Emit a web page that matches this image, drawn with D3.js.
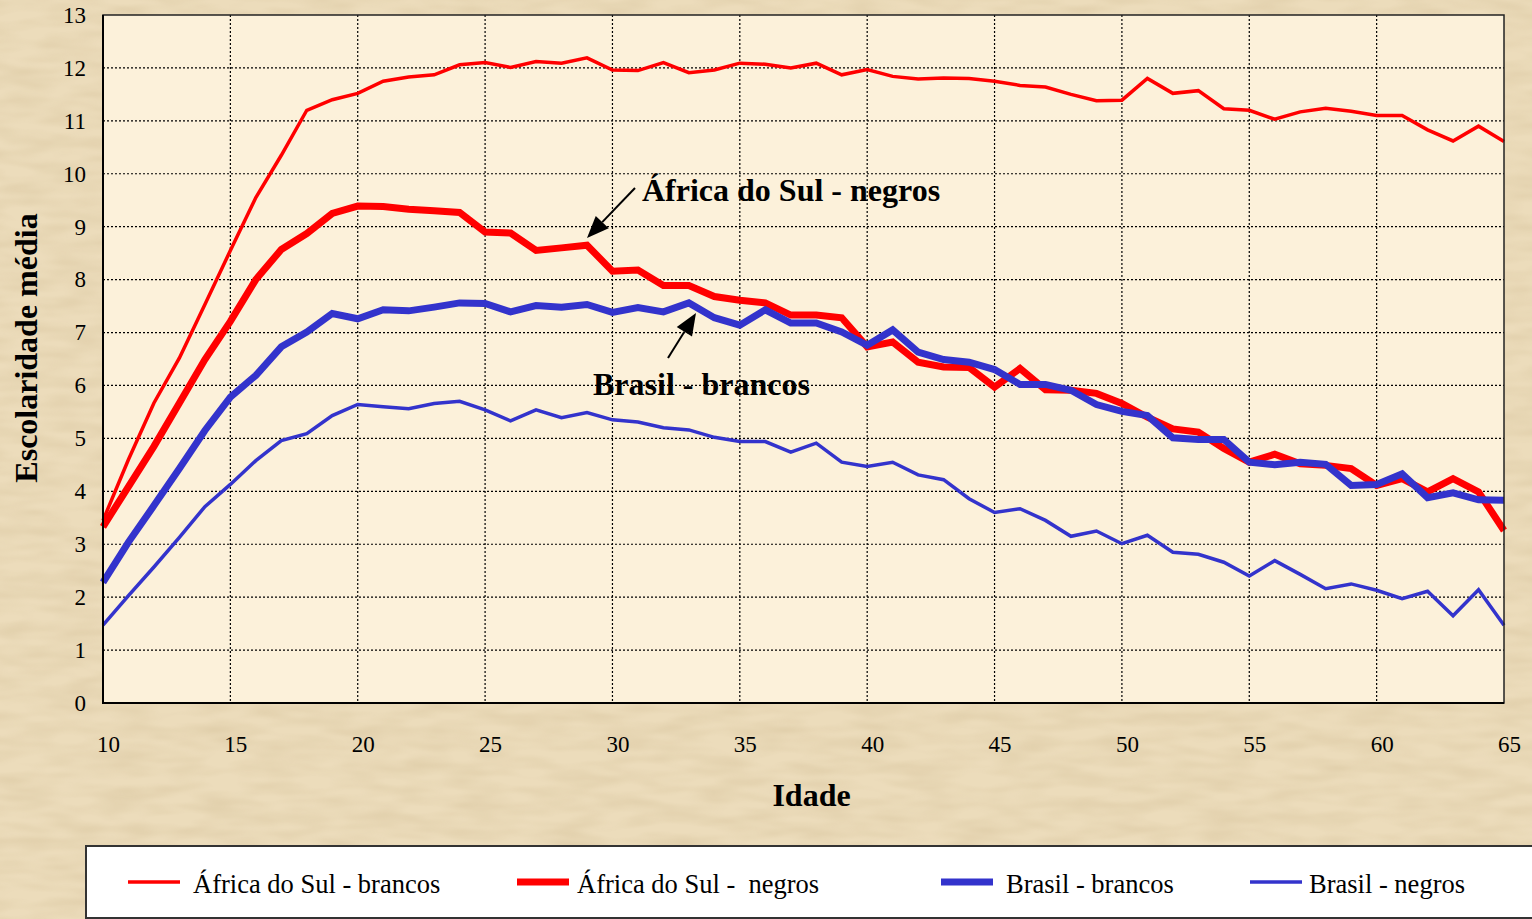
<!DOCTYPE html>
<html>
<head>
<meta charset="utf-8">
<script src="https://cdn.jsdelivr.net/npm/d3@7"></script>
<style>
  body { margin: 0; padding: 0; overflow: hidden; }
  svg { display: block; }
  text { font-family: "Liberation Serif", "Times New Roman", serif; }
</style>
</head>
<body>
<div id="chart"></div>
<script>
// data: age 10..65
var ages = d3.range(10, 66);
var afBrancos = [3.45, 4.6, 5.67, 6.52, 7.53, 8.55, 9.55, 10.35, 11.2, 11.4, 11.52, 11.75, 11.83, 11.87, 12.06, 12.1,
    12.01, 12.12, 12.09, 12.19, 11.96, 11.95, 12.1, 11.91, 11.96, 12.09, 12.07, 12.0, 12.09, 11.87, 11.97,
    11.84, 11.79, 11.81, 11.8, 11.75, 11.67, 11.64, 11.5, 11.38, 11.39, 11.8, 11.52, 11.57, 11.23, 11.2,
    11.03, 11.17, 11.24, 11.18, 11.1, 11.1, 10.83, 10.62, 10.9, 10.61];
var afNegros = [3.33, 4.09, 4.85, 5.67, 6.49, 7.21, 8.0, 8.57, 8.87, 9.25, 9.39, 9.38, 9.33, 9.3, 9.27, 8.9,
    8.88, 8.55, 8.6, 8.65, 8.16, 8.18, 7.89, 7.89, 7.68, 7.61, 7.56, 7.33, 7.33, 7.28, 6.73,
    6.82, 6.44, 6.35, 6.34, 5.97, 6.32, 5.92, 5.91, 5.85, 5.66, 5.4, 5.18, 5.12, 4.81, 4.55,
    4.7, 4.52, 4.49, 4.43, 4.11, 4.24, 3.99, 4.24, 3.99, 3.26];
var brBrancos = [2.28, 3.04, 3.73, 4.43, 5.15, 5.78, 6.19, 6.73, 7.01, 7.36, 7.26, 7.43, 7.41, 7.48, 7.56, 7.55,
    7.39, 7.51, 7.48, 7.53, 7.38, 7.47, 7.39, 7.56, 7.28, 7.14, 7.43, 7.18, 7.18, 7.01, 6.76,
    7.05, 6.63, 6.49, 6.44, 6.3, 6.02, 6.02, 5.91, 5.64, 5.51, 5.43, 5.01, 4.98, 4.98, 4.55,
    4.5, 4.55, 4.51, 4.11, 4.13, 4.33, 3.88, 3.97, 3.84, 3.83];
var brNegros = [1.47, 2.03, 2.57, 3.13, 3.71, 4.13, 4.58, 4.96, 5.09, 5.43, 5.64, 5.6, 5.56, 5.66, 5.7, 5.54,
    5.33, 5.54, 5.39, 5.49, 5.35, 5.31, 5.2, 5.16, 5.02, 4.94, 4.94, 4.74, 4.91, 4.55, 4.47,
    4.55, 4.31, 4.22, 3.86, 3.6, 3.67, 3.45, 3.15, 3.25, 3.01, 3.17, 2.85, 2.81, 2.66, 2.4,
    2.69, 2.43, 2.16, 2.25, 2.13, 1.97, 2.11, 1.65, 2.14, 1.47];
var seriesNames = ["África do Sul - brancos", "África do Sul -  negros", "Brasil - brancos", "Brasil - negros"];
var xTicks = d3.range(10, 66, 5);
var yTicks = d3.range(0, 14);

var svgWidth = 1532, svgHeight = 919;
var margin = { top: 15, right: 28, bottom: 216, left: 103 };
var chartWidth = svgWidth - margin.left - margin.right;
var chartHeight = svgHeight - margin.top - margin.bottom;

var svg = d3.select("#chart").append("svg")
    .attr("width", svgWidth)
    .attr("height", svgHeight);

// parchment background
var defs = svg.append("defs");
var filt = defs.append("filter").attr("id", "paper").attr("x", 0).attr("y", 0).attr("width", "100%").attr("height", "100%");
filt.append("feTurbulence").attr("type", "fractalNoise").attr("baseFrequency", "0.02 0.08").attr("numOctaves", 2).attr("seed", 3);
filt.append("feColorMatrix").attr("type", "matrix")
    .attr("values", "0 0 0 0 0.55  0 0 0 0 0.42  0 0 0 0 0.22  0 0 0 -1.1 0.75");
filt.append("feComposite").attr("in2", "SourceGraphic").attr("operator", "in");

svg.append("rect").attr("width", svgWidth).attr("height", svgHeight).attr("fill", "#ecdcbb");
svg.append("rect").attr("width", svgWidth).attr("height", svgHeight).attr("fill", "#ecdcbb")
    .attr("filter", "url(#paper)").attr("opacity", 0.4);

var chartGroup = svg.append("g")
    .attr("transform", `translate(${margin.left}, ${margin.top})`);

var xScale = d3.scaleLinear().domain([10, 65]).range([0, chartWidth]);
var yScale = d3.scaleLinear().domain([0, 13]).range([chartHeight, 0]);

// plot area
chartGroup.append("rect")
    .attr("width", chartWidth)
    .attr("height", chartHeight)
    .attr("fill", "#fcf1da");

// gridlines
chartGroup.append("g").selectAll("line")
    .data(yTicks.slice(1, -1))
    .enter()
    .append("line")
    .attr("x1", 0).attr("x2", chartWidth)
    .attr("y1", d => yScale(d)).attr("y2", d => yScale(d))
    .attr("stroke", "#000").attr("stroke-width", 1.2).attr("stroke-dasharray", "2,2");

chartGroup.append("g").selectAll("line")
    .data(xTicks.slice(1, -1))
    .enter()
    .append("line")
    .attr("y1", 0).attr("y2", chartHeight)
    .attr("x1", d => xScale(d)).attr("x2", d => xScale(d))
    .attr("stroke", "#000").attr("stroke-width", 1.2).attr("stroke-dasharray", "2,2");

// axes
var leftAxis = d3.axisLeft(yScale).tickValues(yTicks).tickSize(0).tickPadding(17);
var bottomAxis = d3.axisBottom(xScale).tickValues(xTicks).tickSize(0).tickPadding(33);

var yAxis = chartGroup.append("g").call(leftAxis);
var xAxis = chartGroup.append("g").attr("transform", `translate(0, ${chartHeight})`).call(bottomAxis);
[xAxis, yAxis].forEach(function(ax) {
    ax.select(".domain").remove();
    ax.selectAll("text")
        .style("font-family", "'Liberation Serif', serif")
        .style("font-size", "23px")
        .attr("fill", "#000");
});
xAxis.selectAll("text").attr("dx", 5);

// lines
var line = function(vals) {
    return d3.line()
        .x((d, i) => xScale(ages[i]))
        .y(d => yScale(d))(vals);
};
var series = [
    { vals: afBrancos, color: "#ff0000", width: 3.5 },
    { vals: afNegros, color: "#ff0000", width: 7 },
    { vals: brBrancos, color: "#3333cc", width: 7 },
    { vals: brNegros, color: "#3333cc", width: 3.5 }
];
chartGroup.append("g").selectAll("path")
    .data(series)
    .enter()
    .append("path")
    .attr("d", d => line(d.vals))
    .attr("fill", "none")
    .attr("stroke", d => d.color)
    .attr("stroke-width", d => d.width)
    .attr("stroke-linejoin", "miter");

// plot border
chartGroup.append("rect")
    .attr("width", chartWidth)
    .attr("height", chartHeight)
    .attr("fill", "none")
    .attr("stroke", "#222")
    .attr("stroke-width", 1.5);
chartGroup.append("path")
    .attr("d", `M0,0V${chartHeight}H${chartWidth}`)
    .attr("fill", "none").attr("stroke", "#000").attr("stroke-width", 2);

// axis titles
svg.append("text")
    .attr("x", margin.left + chartWidth / 2 + 8)
    .attr("y", 806)
    .attr("text-anchor", "middle")
    .style("font-size", "32px")
    .style("font-weight", "bold")
    .text("Idade");

svg.append("text")
    .attr("transform", `translate(37, 348) rotate(-90)`)
    .attr("text-anchor", "middle")
    .style("font-size", "32px")
    .style("font-weight", "bold")
    .text("Escolaridade média");

// annotations with arrows
function arrow(x1, y1, x2, y2) {
    var ang = Math.atan2(y2 - y1, x2 - x1);
    var len = 22, half = 9;
    var bx = x2 - len * Math.cos(ang), by = y2 - len * Math.sin(ang);
    svg.append("line")
        .attr("x1", x1).attr("y1", y1).attr("x2", bx).attr("y2", by)
        .attr("stroke", "#000").attr("stroke-width", 2);
    svg.append("polygon")
        .attr("points", [
            [x2, y2],
            [bx + half * Math.sin(ang), by - half * Math.cos(ang)],
            [bx - half * Math.sin(ang), by + half * Math.cos(ang)]
        ].map(p => p.join(",")).join(" "))
        .attr("fill", "#000");
}
svg.append("text")
    .attr("x", 642).attr("y", 201)
    .style("font-size", "32px").style("font-weight", "bold")
    .text("África do Sul - negros");
arrow(635, 188, 587, 238);

svg.append("text")
    .attr("x", 593).attr("y", 395)
    .style("font-size", "32px").style("font-weight", "bold")
    .text("Brasil - brancos");
arrow(668, 358, 696, 313);

// legend
var legend = svg.append("g");
legend.append("rect")
    .attr("x", 86).attr("y", 846)
    .attr("width", 1460).attr("height", 72)
    .attr("fill", "#fff")
    .attr("stroke", "#333").attr("stroke-width", 2);
var legendX = [128, 517, 941, 1250];
var legendTextX = [193, 577, 1006, 1309];
var legendItems = legend.selectAll("g.item")
    .data(series)
    .enter()
    .append("g");
legendItems.append("line")
    .attr("x1", (d, i) => legendX[i]).attr("x2", (d, i) => legendX[i] + 52)
    .attr("y1", 882).attr("y2", 882)
    .attr("stroke", d => d.color)
    .attr("stroke-width", d => d.width);
legendItems.append("text")
    .attr("x", (d, i) => legendTextX[i])
    .attr("y", 893)
    .style("font-size", "26.5px")
    .style("white-space", "pre")
    .text((d, i) => seriesNames[i]);
</script>
</body>
</html>
